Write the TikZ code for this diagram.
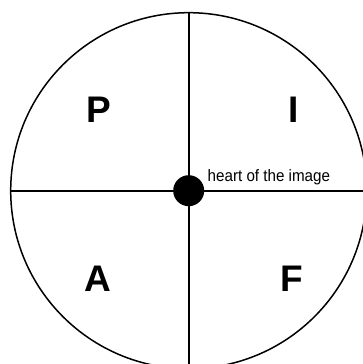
\documentclass[tikz,border=0pt]{standalone}
\usepackage{fontspec}
\setmainfont{Liberation Sans}
\newfontfamily\narrowfont{Liberation Sans}[FakeStretch=0.92]
\begin{document}
\begin{tikzpicture}[x=1pt,y=1pt,
  letter/.style={font=\fontsize{37}{40}\selectfont\bfseries, inner sep=0pt},
  ring/.style={circle, draw=black, line width=1.5pt, minimum size=356pt, inner sep=0pt},
  axis/.style={draw=black, line width=2pt},
  heartdot/.style={circle, fill=black, minimum size=31pt, inner sep=0pt}]
\useasboundingbox (0,0) rectangle (363,364);
\clip (0,0) rectangle (363,364);
\node[ring] (c) at (188.7,173.3) {};
\draw[axis] (c.north) -- (c.south);
\draw[axis] (c.west) -- (c.east);
\node[heartdot] (h) at (c.center) {};
\node[letter] (p) at (98.7,254) {P};
\node[letter] (i) at (294,254) {I};
\node[letter] (a) at (97.7,85) {A};
\node[letter] (f) at (292,85) {F};
\node[anchor=base west, inner sep=0pt, font=\narrowfont\fontsize{16.5}{18}\selectfont] (t) at (207.5,182) {heart of the image};
\end{tikzpicture}
\end{document}
